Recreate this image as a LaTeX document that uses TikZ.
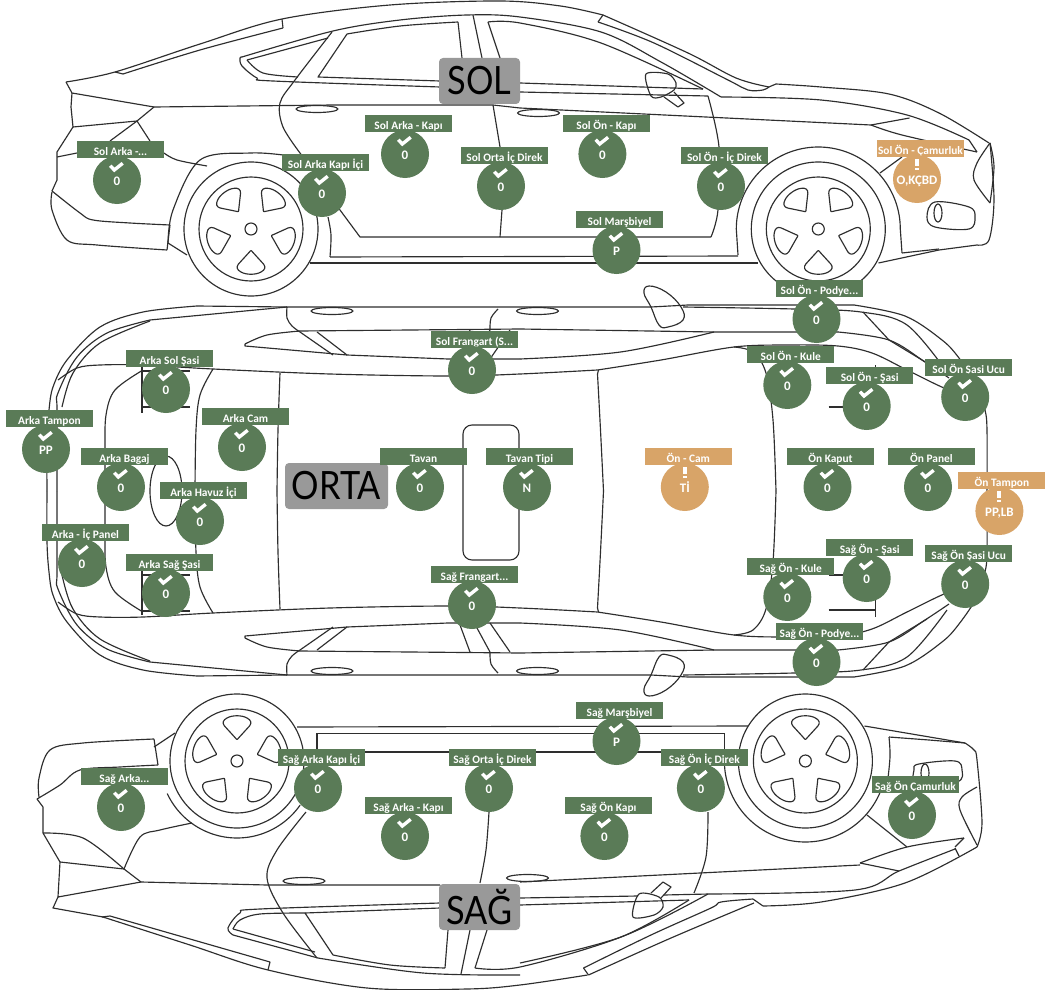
\documentclass[tikz,border=0pt]{standalone}
\usepackage{fontspec}
\setmainfont{Carlito}
\newfontfamily\bigf[FakeStretch=0.88]{Lato}
\definecolor{gr}{HTML}{5A7B57}
\definecolor{og}{HTML}{D8A468}
\definecolor{ln}{HTML}{2E2E2E}
\definecolor{tg}{HTML}{999999}
\tikzset{
 car/.style={draw=ln,line width=1.15pt,line join=round},
 lab/.style={rectangle,minimum width=87pt,minimum height=17pt,inner xsep=0pt,inner ysep=0pt,text height=14pt,text depth=3pt,text=white,font=\fontsize{11.4}{12}\selectfont\bfseries},
 dot/.style={circle,minimum size=48pt,inner sep=0pt},
 val/.style={anchor=base,inner sep=0pt,text=white,font=\fontsize{13}{14}\selectfont\bfseries},
 tag/.style={rectangle,rounded corners=4pt,fill=tg,inner sep=0pt,text=black,font=\bigf\fontsize{39}{40}\selectfont},
 sm/.style={smooth,tension=0.55}
}
\newcommand\crv[1]{\draw[car] plot[sm] coordinates {#1};}
\newcommand\arcpx[5]{\draw[car] plot[domain=#4:#5,samples=50,smooth] ({#1+#3*cos(\x)},{#2+#3*sin(\x)});}
\newcommand\whl[3]{%
 \draw[car] (#1,#2) circle[radius=67];
 \draw[car] (#1,#2) circle[radius=52];
 \draw[car] (#1,#2) circle[radius=6];
 \foreach \aa in {0,72,144,216,288}{
  \draw[car,shift={(#1,#2)},rotate=#3+\aa] (-2,23.5) .. controls (0,21) and (0,21) .. (2,23.5) -- (12.5,35) .. controls (15,38) and (14,41) .. (10,43) .. controls (5,46) and (-5,46) .. (-10,43) .. controls (-14,41) and (-15,38) .. (-12.5,35) -- cycle;
 }}
\def\grname{gr}
% name, label cx, label cy, text, dot x, dot y, value, colour
\newcommand\mk[8]{%
 \node[lab,fill=#8] (#1l) at (#2,#3) {#4};
 \node[dot,fill=#8] (#1c) at (#5,#6) {};
 \node[val] (#1v) at (#5,#6+5) {#7};
 \def\thiscol{#8}%
 \ifx\thiscol\grname
  \draw[white,line width=3.4pt] (#5-6.7,#6-14.3) -- (#5-2.7,#6-10) -- (#5+5.7,#6-16.7);
 \else
  \fill[white] (#5-2,#6-20) rectangle (#5+2,#6-13);
  \fill[white] (#5-2,#6-11.5) rectangle (#5+2,#6-9);
 \fi}
\newcommand\halfcar{%
 % outer
 \crv{(197,306)(143,312)(100,327)(67,360)(53,387)(49,410)(47,440)(47,491)}
 \draw[car] (197,306) -- (287,307) -- (651,307);
 \draw[car] (651,307) -- (688,305) -- (854,305);
 \crv{(854,305)(905,316)(942,340)(959,358)(977,385)(985,410)(987,430)(987,491)}
 \crv{(150,320)(107,333)(77,357)(58,393)(57,410)(57,491)}
 \crv{(150,321)(100,343)(73,373)(62,407)}
 \draw[car] (150,320) -- (287,307);
 \crv{(683,307)(794,309)(861,312)(907,325)(947,372)}
 \draw[car] (863,312) -- (889,340) -- (927,363);
 \crv{(58,380)(77,368)(100,365)(143,365)(213,369)(330,374)(450,376)(520,374)(597.5,370)}
 % centre side
 \crv{(245,344)(267,335)(300,331)}
 \draw[car] (300,331) -- (520,329) -- (714,332) -- (838,332);
 \crv{(838,332)(889,340)(925,362)(949,378)}
 \draw[car] (245,344) -- (245,346) -- (347,355) -- (448,359) -- (520,359);
 \crv{(520,359)(620.5,352)(714,332)}
 \crv{(597.5,370)(661,360)(734,347)(788,345)(838,346)(872,353)(907,370)(944,388)(972,398)(985,410)}
 \draw[car] (300,332) -- (333,355);
 \draw[car] (317,332) -- (347,355);
 \crv{(287,307)(287,318)(292,326)(300,332)}
 \draw[car] (460,357) -- (470,330);
 \draw[car] (477,354) -- (490,330);
 \crv{(490,330)(491,318)(498,309)}
 \draw[car] (490,359) -- (510,330);
 \draw[car] (332,311) ellipse[x radius=21,y radius=3.5];
 \draw[car] (537.5,311) ellipse[x radius=21,y radius=3.5];
 % glass
 \crv{(213,369)(200,395)(196,430)(195,491)}
 \crv{(143,370)(115,390)(106,415)(105,450)(105,491)}
 \crv{(280,373)(278,430)(277,491)}
 \crv{(597.5,374)(600.5,430)(603.5,491)}
 \draw[car] (597.5,374) -- (598.5,370);
 \crv{(734,347)(753,352)(766,373)(773,420)(776,491)}
 % brackets
 \draw[car] (142,367) -- (142,413);
 \draw[car] (142,371) -- (190,371);
 \draw[car] (142,407) -- (190,407);
 \draw[car] (875.5,365) -- (875.5,411);
 \draw[car] (828.5,372) -- (875.5,372);
 \draw[car] (828.5,407) -- (875.5,407);
 % mirror
 \draw[car] plot[smooth cycle,tension=0.7] coordinates {(644,293)(649,286)(666,292)(681,307)(683,320)(668,327)(659,325)(651,307)};
}
\begin{document}
\begin{tikzpicture}[x=1pt,y=-1pt]
\useasboundingbox (0,0) rectangle (1045,990);
\fill[white] (0,0) rectangle (1045,990);
%%% TOP CAR
\crv{(66,82)(115,72)(200,44)(282,19)(390,5)(500,1)(560.5,6)(603,15)}
\draw[car] (115,72) -- (123,74);
\crv{(123,74)(200,50)(283,28)}
\draw[car] (283,28) -- (282,19);
\crv{(603,15)(688,53)(736,78)(769,87)}
\draw[car] (603,15) -- (598,22);
\crv{(598,22)(654,43)(728,80)(748,90)(763,90)(769,87)(776,84)}
\crv{(776,84)(821,87)(889,94)(939,113)(989,143)}
\crv{(242,57)(333,31)(400,20)(467,15)(520,17)(601,32)(661,62)(721,97)}
\crv{(721,97)(821,100)(907,115)(969,140)}
\draw[car] (969,140) -- (977,152);
\crv{(347,34)(400,26)(458,22)}
\draw[car] (458,22) -- (462,58);
\draw[car] (347,34) -- (318,77) -- (440,81);
\crv{(488,22)(520,23)(601,43)(703,89)}
\draw[car] (488,22) -- (500,58);
\draw[car] (520,83) -- (703,89);
\draw[car] (473,15) -- (482,58);
\draw[car] (493,105) -- (500,147);
\draw[car] (502,210) -- (500,237);
\draw[car] (520,92) -- (708,96);
\crv{(440,87)(273,81)(257,78)(242,66)(240,58)(242,57)}
\draw[car] (247,60) -- (328,38);
\crv{(247,60)(263,73)(298,77)}
\crv{(332,32)(295,80)(280,103)(283,127)(300,153)}
\crv{(300,153)(320,180)(340,210)}
\draw[car] (340,210) -- (360,237) -- (711,237);
\crv{(711,237)(718,210)(719,147)(708,96)}
\draw[car] (154,107) -- (333,105) -- (493,105) -- (520,108) -- (871,125);
\draw[car] (66,82) -- (72,93) -- (154,107);
\draw[car] (72,93) -- (71,107) -- (73,127) -- (137,121) -- (154,107);
\draw[car] (73,127) -- (57,152) -- (57,180) -- (52,191);
\draw[car] (57,157) -- (77,153);
\draw[car] (137,121) -- (110,141);
\draw[car] (137,121) -- (150,141);
\crv{(164,153)(177,160)(207,166)}
\crv{(52,191)(80,213)(93,220)(130,223)(170,225)}
\crv{(52,192)(52,210)(67,240)(97,245)(167,250)}
\draw[car] (167,250) -- (170,225);
\crv{(168,243)(173,210)(200,160)(250,153)(283,155)}
\draw[car] (168,243) -- (187,255);
\whl{251}{229}{0}
\whl{818.3}{229}{0}
\arcpx{818.3}{229}{82}{180}{360}
\draw[car] (736.3,229) -- (738,255);
\draw[car] (900.3,229) -- (902,253);
\draw[car] (330,257) -- (738,256);
\crv{(328,217)(331,235)(330,257)}
\draw[car] (310,263) -- (758,263);
\draw[car] (878.5,263) -- (939,250) -- (977,245);
\crv{(977,245)(989,240)(994,200)(990,143)}
\draw[car] (902,253) -- (939,249);
\crv{(990,143)(977,163)(974,180)(990,203)}
\crv{(990,143)(994,167)(990,203)}
\draw[car] plot[smooth cycle,tension=0.6] coordinates {(935,202)(969,207)(975,217)(969,229)(935,227)(927,217)};
\draw[car] (938,213) ellipse[x radius=4,y radius=9];
\draw[car] (871,125) -- (909.5,118);
\crv{(871,125)(902,135)(977,152)}
\draw[car] (880,173) -- (902,157);
\draw[car] plot[smooth cycle,tension=0.5] coordinates {(646,74)(668,74)(676,83)(674,90)(661,97)(651,96)};
\draw[car] (664,97) -- (678,107) -- (684,103) -- (674,92);
\draw[car] (317,109) ellipse[x radius=21,y radius=3.5];
\draw[car] (538.5,113) ellipse[x radius=21,y radius=3.5];
%%% MIDDLE CAR
\halfcar
\begin{scope}[shift={(0,982)},yscale=-1]\halfcar\end{scope}
\draw[car] (166,491) ellipse[x radius=16,y radius=35];
\draw[car,rounded corners=9pt] (463,425) rectangle (519,560);
%%% BOTTOM CAR
\whl{237}{761}{180}
\whl{805.4}{761}{180}
\arcpx{237}{761}{77}{35}{155}
\arcpx{805.4}{761}{81}{20}{180}
\draw[car] (724.3,733.4) -- (724.3,761);
\draw[car] (297,727) -- (748,726);
\draw[car] (317,733.4) -- (724.3,733.4);
\draw[car] (317,733.4) -- (317,750);
\draw[car] (365,752) -- (661,752);
\crv{(37,799)(60,785)(80,770)(120,767)(158,765)}
\crv{(39,797)(39,778)(50,750)(83,743)(154,739)}
\draw[car] (154,739) -- (158,765);
\draw[car] (154,747) -- (175,733);
\draw[car] (37,799) -- (43,807) -- (43,833) -- (60,862) -- (58,897) -- (141,882);
\draw[car] (60,862) -- (124,869) -- (141,882);
\crv{(43,833)(83,838)(124,869)}
\crv{(124,869)(140,837)(160,830)(192,823)}
\draw[car] (58,897) -- (53,908) -- (103,917);
\crv{(103,917)(190,945)(268,970)(367,988)(467,989)(520,985)(587.5,975)}
\draw[car] (102,917) -- (110,916) -- (270,962) -- (268,970);
\draw[car] (583.5,968) -- (588.5,975);
\crv{(583.5,968)(651,935)(711,908)(721,902)(753,899)}
\crv{(588.5,975)(671,938)(754,903)}
\draw[car] (753,899) -- (763,906);
\crv{(763,906)(821,902)(905,883)(977,847)}
\crv{(977,847)(982,823)(977,760)(974,750)(965,743)}
\draw[car] (965,743) -- (864.5,726);
\draw[car] (889,737) -- (929,740) -- (965,743);
\crv{(889,737)(890,757)(887,787)}
\draw[car] (867,815) -- (907,847);
\crv{(860,863)(907,847)(964,838)}
\draw[car] (964,838) -- (955,847);
\draw[car] (860,863) -- (899,871);
\draw[car] (860,865) -- (520,882);
\draw[car] (955,848) -- (959,856);
\crv{(709,894)(855,890)(899,871)(955,849)}
\crv{(977,787)(962,797)(960,810)(977,845)}
\draw[car] plot[smooth cycle,tension=0.6] coordinates {(914,770)(919,764)(955,761)(962,770)(957,782)(917,785)};
\draw[car] (925,773) ellipse[x radius=4,y radius=9];
\draw[car] plot[smooth cycle,tension=0.5] coordinates {(639,894)(659,897)(663,907)(654,915)(633,917)};
\draw[car] (651,893) -- (663,882) -- (671,887) -- (661,898);
\draw[car] (304,881) ellipse[x radius=21,y radius=3.5];
\draw[car] (527.5,878) ellipse[x radius=21,y radius=3.5];
\draw[car] (141,882) -- (267,885) -- (440,885);
\crv{(317,958)(283,913)(267,878)(277,850)(306,812)}
\crv{(708,812)(706,857)(694,893)}
\crv{(489,812)(486,850)(480,883)}
\draw[car] (470,930) -- (461,974);
\draw[car] (305,913) -- (440,908);
\draw[car] (305,913) -- (333,955);
\crv{(333,955)(390,965)(445,968)}
\draw[car] (445,968) -- (448,930);
\draw[car] (475,968) -- (487,930);
\crv{(475,968)(520,967)(621,937)(689,900)}
\draw[car] (520,905) -- (689,900);
\crv{(440,903)(260,909)(240,913)(228,928)(233,935)}
\draw[car] (233,935) -- (318,958);
\crv{(318,958)(423,973)(520,975)}
\crv{(520,963)(621,937)(708,894)}
\draw[car] (520,898) -- (638,896);
\draw[car] (664,895) -- (709,894);
\crv{(233,929)(240,920)(260,914)(305,913)}
\draw[car] (233,929) -- (315,952);
%%% TAGS
\node[tag,minimum width=81pt,minimum height=46pt] (tsol) at (479.5,81) {SOL};
\node[tag,minimum width=103pt,minimum height=46pt] (torta) at (336.5,486) {ORTA};
\node[tag,minimum width=81pt,minimum height=46pt] (tsag) at (479.5,907) {SAĞ};
%%% MARKERS
\mk{a}{120.5}{149.5}{Sol Arka -...}{117}{180}{0}{gr}
\mk{b}{325.5}{162.5}{Sol Arka Kapı İçi}{322}{193}{0}{gr}
\mk{c}{408.5}{123.5}{Sol Arka - Kapı}{405}{154}{0}{gr}
\mk{d}{504.5}{155.5}{Sol Orta İç Direk}{501}{186}{0}{gr}
\mk{e}{606.4}{123.5}{Sol Ön - Kapı}{602.4}{154}{0}{gr}
\mk{f}{724.5}{155.5}{Sol Ön - İç Direk}{721}{186}{0}{gr}
\mk{g}{619.5}{219.5}{Sol Marşbiyel}{616.5}{250}{P}{gr}
\mk{h}{920.5}{148.5}{Sol Ön - Çamurluk}{917}{179}{O,KÇBD}{og}
\mk{i}{819.5}{288.5}{Sol Ön - Podye...}{816.5}{319}{0}{gr}
\mk{j}{474.5}{339.5}{Sol Frangart (S...}{472}{370}{0}{gr}
\mk{k}{169.5}{358.5}{Arka Sol Şasi}{166}{389}{0}{gr}
\mk{l}{49.5}{418.5}{Arka Tampon}{46}{449}{PP}{gr}
\mk{m}{245.5}{416.5}{Arka Cam}{242}{447}{0}{gr}
\mk{n}{124.5}{456.5}{Arka Bagaj}{121}{487}{0}{gr}
\mk{o}{203.5}{490.5}{Arka Havuz İçi}{200}{521}{0}{gr}
\mk{p}{85.5}{532.5}{Arka - İç Panel}{82}{563}{0}{gr}
\mk{q}{169.5}{562.5}{Arka Sağ Şasi}{166}{593}{0}{gr}
\mk{r}{423.5}{456.5}{Tavan}{420}{487}{0}{gr}
\mk{s}{529.5}{456.5}{Tavan Tipi}{527}{487}{N}{gr}
\mk{t}{474.5}{574.5}{Sağ Frangart...}{472}{605}{0}{gr}
\mk{u}{688.3}{456.5}{Ön - Cam}{684.8}{487}{Tİ}{og}
\mk{v}{830.5}{456.5}{Ön Kaput}{827.5}{487}{0}{gr}
\mk{w}{931.5}{456.5}{Ön Panel}{928}{487}{0}{gr}
\mk{x}{1001.9}{480.5}{Ön Tampon}{999.4}{511}{PP,LB}{og}
\mk{y}{790.8}{354.5}{Sol Ön - Kule}{787.3}{385}{0}{gr}
\mk{z}{869.7}{375.5}{Sol Ön - Şasi}{866.7}{406}{0}{gr}
\mk{aa}{968.7}{367.5}{Sol Ön Şasi Ucu}{965.2}{397}{0}{gr}
\mk{ab}{869.7}{547.5}{Sağ Ön - Şasi}{866.7}{578}{0}{gr}
\mk{ac}{790.8}{566.5}{Sağ Ön - Kule}{787.3}{597}{0}{gr}
\mk{ad}{968.7}{553.5}{Sağ Ön Şasi Ucu}{965.2}{584}{0}{gr}
\mk{ae}{819.5}{631.5}{Sağ Ön - Podye...}{816.5}{662}{0}{gr}
\mk{af}{124.5}{776.5}{Sağ Arka...}{121}{807}{0}{gr}
\mk{ag}{321.5}{757.5}{Sağ Arka Kapı İçi}{318}{788}{0}{gr}
\mk{ah}{408.5}{805.5}{Sağ Arka - Kapı}{405}{836}{0}{gr}
\mk{ai}{492.5}{757.5}{Sağ Orta İç Direk}{489}{788}{0}{gr}
\mk{aj}{619.5}{710.5}{Sağ Marşbiyel}{616.5}{741}{P}{gr}
\mk{ak}{704.4}{757.5}{Sağ Ön İç Direk}{700.9}{788}{0}{gr}
\mk{al}{608.4}{805.5}{Sağ Ön Kapı}{604.4}{836}{0}{gr}
\mk{am}{915.5}{784.5}{Sağ Ön Çamurluk}{912}{815}{0}{gr}
\end{tikzpicture}
\end{document}
